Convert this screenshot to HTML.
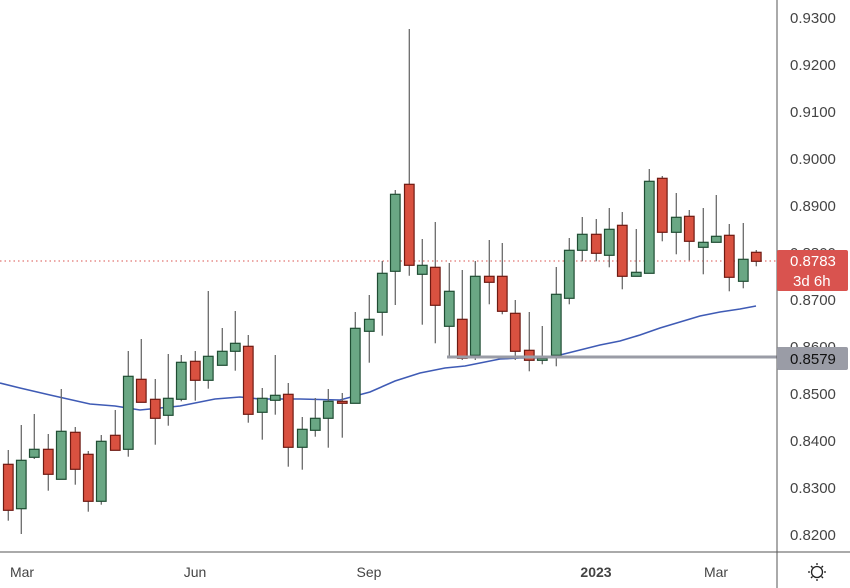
<!DOCTYPE html>
<html><head><meta charset="utf-8"><style>
html,body{margin:0;padding:0;background:#fff;}
svg{display:block;font-family:"Liberation Sans",sans-serif;}
</style></head><body>
<svg id="s" width="850" height="588" viewBox="0 0 850 588" xmlns="http://www.w3.org/2000/svg">
<rect width="850" height="588" fill="#fff"/>
<line x1="0" y1="261" x2="777" y2="261" stroke="#d9534f" stroke-width="1" stroke-dasharray="1.5,3"/>
<polyline fill="none" stroke="#3f5bb5" stroke-width="1.6" points="0,383 20,388 50,395 90,404 115,406 140,410 180,406 215,399 240,397 260,399 300,399 340,400 370,392 395,381 420,373 445,368 465,366 480,363 500,359 520,358 545,358 560,355 580,350 600,345 620,341 640,335 660,328 680,322 700,316 720,312 740,309 756,306"/>
<g id="c"></g>
<line x1="447" y1="357" x2="777" y2="357" stroke="#9a9ca6" stroke-width="3"/>
<line x1="777" y1="0" x2="777" y2="588" stroke="#555" stroke-width="1"/>
<line x1="0" y1="552" x2="850" y2="552" stroke="#555" stroke-width="1"/>
<g font-size="15" fill="#444" text-anchor="start">
<text x="790" y="23">0.9300</text>
<text x="790" y="70">0.9200</text>
<text x="790" y="117">0.9100</text>
<text x="790" y="164">0.9000</text>
<text x="790" y="211">0.8900</text>
<text x="790" y="258">0.8800</text>
<text x="790" y="305">0.8700</text>
<text x="790" y="352">0.8600</text>
<text x="790" y="399">0.8500</text>
<text x="790" y="446">0.8400</text>
<text x="790" y="493">0.8300</text>
<text x="790" y="540">0.8200</text>
</g>
<rect x="777" y="250" width="71" height="41" rx="2" fill="#d9534f"/>
<text x="790" y="266" font-size="15" fill="#fff">0.8783</text>
<text x="793" y="286" font-size="15" fill="#fff">3d 6h</text>
<rect x="777" y="347" width="71" height="23" rx="2" fill="#9a9ca6"/>
<text x="790" y="364" font-size="15" fill="#111">0.8579</text>
<g font-size="14" fill="#444" text-anchor="middle">
<text x="22" y="577">Mar</text>
<text x="195" y="577">Jun</text>
<text x="369" y="577">Sep</text>
<text x="596" y="577" font-weight="bold">2023</text>
<text x="716" y="577">Mar</text>
</g>
<g stroke="#222" stroke-width="1.3" fill="none">
<circle cx="817" cy="572" r="5.5"/>
<line x1="817" y1="563" x2="817" y2="565"/><line x1="817" y1="579" x2="817" y2="581"/>
<line x1="808" y1="572" x2="810" y2="572"/><line x1="824" y1="572" x2="826" y2="572"/>
<line x1="811" y1="566" x2="812.5" y2="567.5"/><line x1="821.5" y1="576.5" x2="823" y2="578"/>
<line x1="823" y1="566" x2="821.5" y2="567.5"/><line x1="811" y1="578" x2="812.5" y2="576.5"/>
</g>
</svg>
<script>
var d=[
[8.3,450,464.3,510.3,520.7,0],[21.3,425,460.3,508.7,534,1],[34.3,414,449.3,457.3,459,1],[48.3,434,449.3,474.3,490.7,0],
[61.3,389,431.3,479.3,479.3,1],[75.3,427,432.3,469.3,484.7,0],[88.3,451,454.3,501.3,511.7,0],[101.3,435,441.3,501.3,504.7,1],
[115.3,410,435.3,450.3,450.3,0],[128.3,351,376.3,449.3,456.7,1],[141.3,339,379.3,402.3,402.3,0],[155.3,379,399.3,418.3,444.7,0],
[168.3,354,398.3,415.3,425.7,1],[181.3,355,362.3,399.3,401.3,1],[195.3,351,361.3,380.3,400.7,0],[208.3,291,356.3,380.3,388.7,1],
[222.3,328,351.3,365.3,365.3,1],[235.3,311,343.3,351.3,370.7,1],[248.3,335,346.3,414.3,422.7,0],[262.3,388,398.3,412.3,439.7,1],
[275.3,355,395.3,400.3,414.7,1],[288.3,383,394.3,447.3,466.7,0],[302.3,417,429.3,447.3,469.7,1],[315.3,398,418.3,430.3,436.7,1],
[328.3,389,401.3,418.3,447.7,1],[342.3,393,401.3,403.3,437.7,0],[355.3,312,328.3,403.3,403.3,1],[369.3,295,319.3,331.3,362.7,1],
[382.3,261,273.3,312.3,335.7,1],[395.3,190,194.3,271.3,305,1],[409.3,29,184.3,265.3,275.7,0],[422.3,239,265.3,274.3,324.7,1],
[435.3,222,267.3,305.3,343.3,0],[449.3,263,291.3,326.3,358.3,1],[462.3,270,319.3,358.3,360,0],[475.3,261,276.3,355.3,360,1],
[489.3,240,276.3,282.3,304.3,0],[502.3,243,276.3,311.3,314.3,0],[515.3,300,313.3,351.3,360,0],[529.3,312,350.3,360.3,371.3,0],
[542.3,326,358.3,360.3,364.3,1],[556.3,267,294.3,355.3,366.3,1],[569.3,238,250.3,298.3,304.3,1],[582.3,217,234.3,250.3,261.3,1],
[596.3,219,234.3,253.3,261.3,0],[609.3,208,229.3,255.3,267.3,1],[622.3,212,225.3,276.3,289.3,0],[636.3,229,272.3,276.3,276.3,1],
[649.3,169,181.3,273.3,273.3,1],[662.3,176,178.3,232.3,241.3,0],[676.3,193,217.3,232.3,254.3,1],[689.3,210,216.3,241.3,260.3,0],
[703.3,208,242.3,247.3,274.3,1],[716.3,195,236.3,242.3,242.3,1],[729.3,224,235.3,277.3,291.3,0],[743.3,223,259.3,281.3,288.3,1],
[756.3,250,252.3,261.3,266.3,0]];
var g=document.getElementById('c'),h='';
d.forEach(function(c){var x=c[0],col=c[5]?'#6aa784':'#d95140',st=c[5]?'#1f4d33':'#6e1a12';
h+='<line x1="'+x+'" y1="'+c[1]+'" x2="'+x+'" y2="'+c[4]+'" stroke="#6b6b6b" stroke-width="1.3"/>';
h+='<rect x="'+(x-4.8)+'" y="'+c[2]+'" width="9.6" height="'+Math.max(1,c[3]-c[2])+'" fill="'+col+'" stroke="'+st+'" stroke-width="1.2"/>';});
g.innerHTML=h;
</script>
</body></html>
